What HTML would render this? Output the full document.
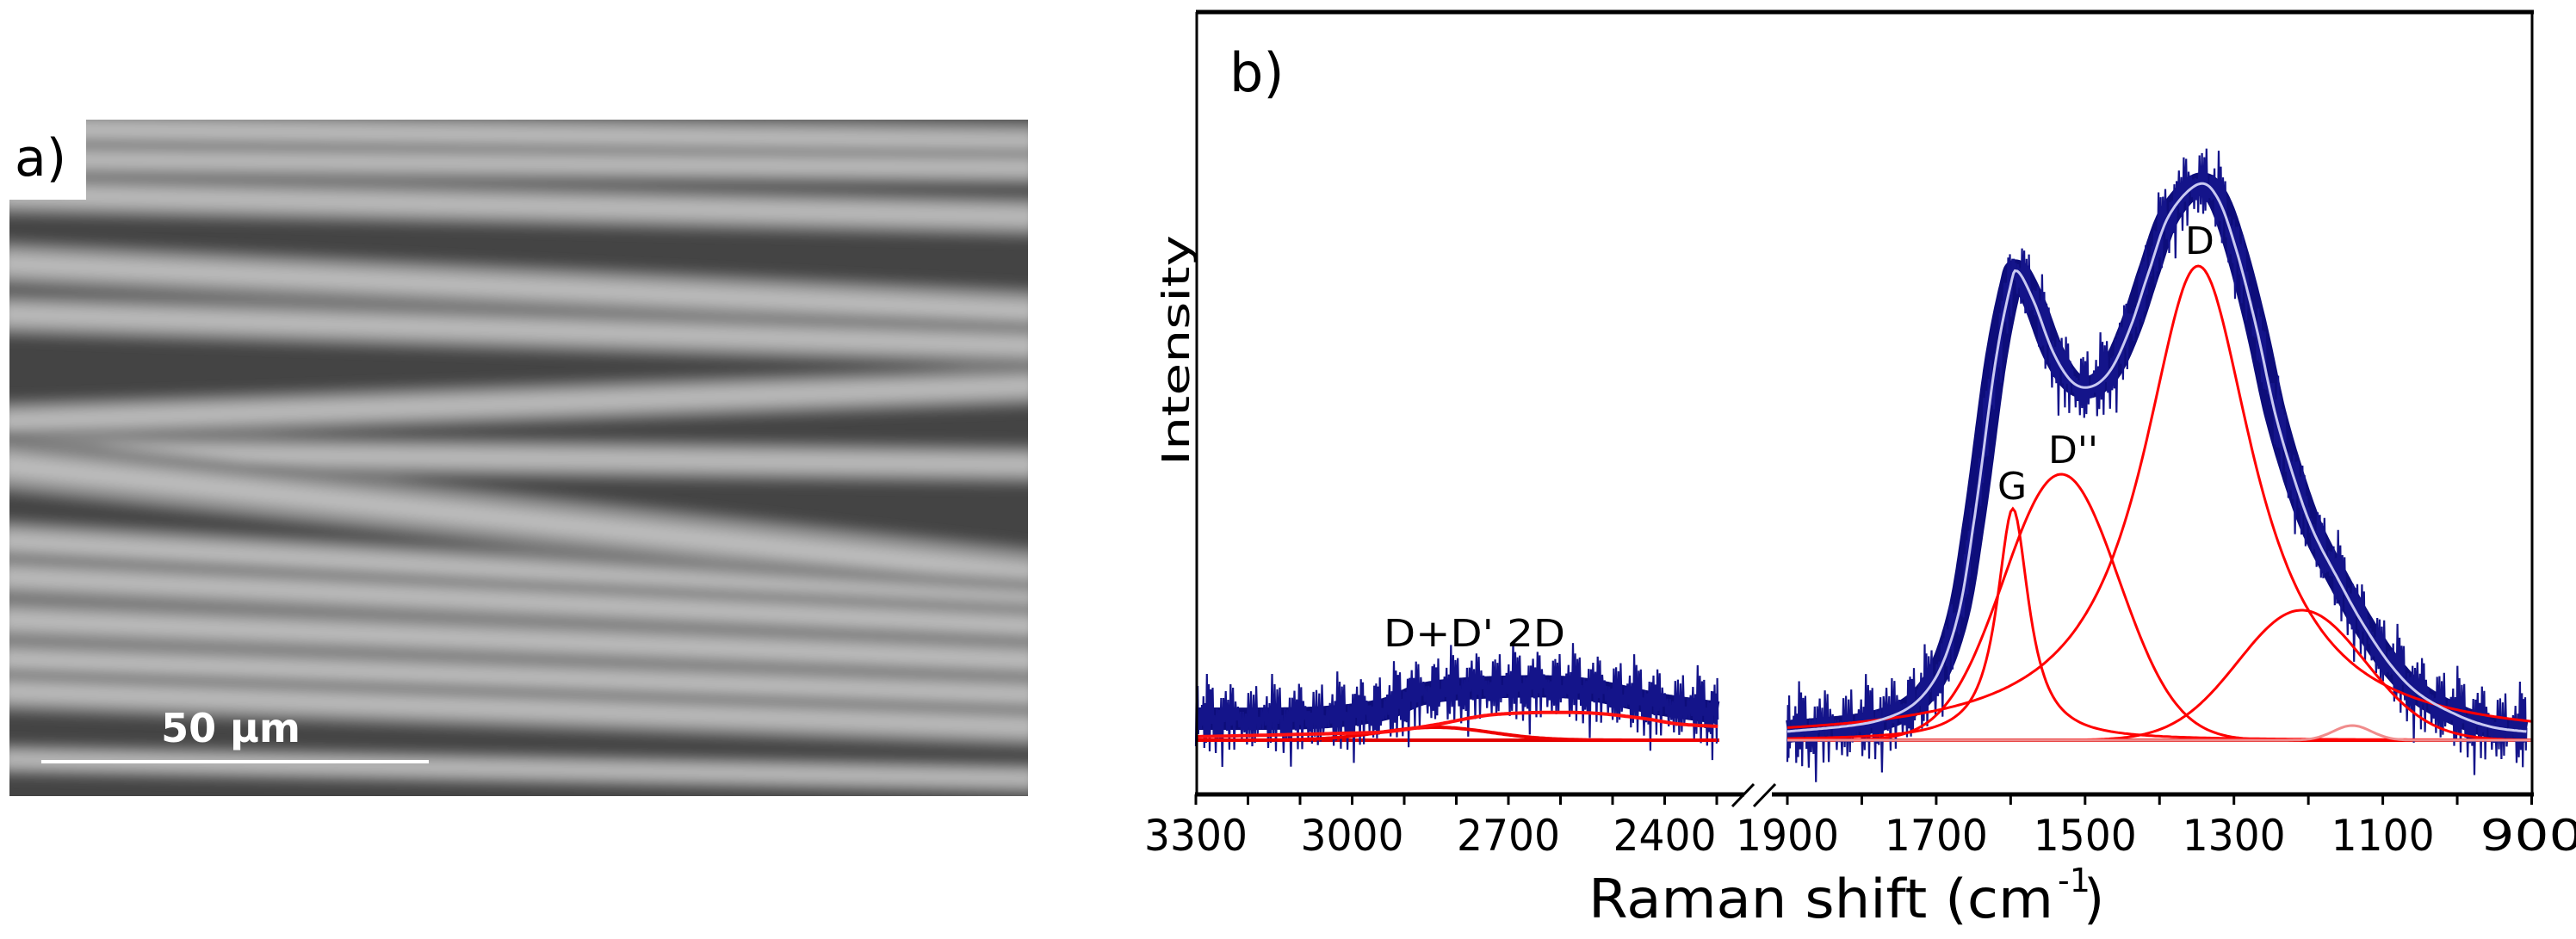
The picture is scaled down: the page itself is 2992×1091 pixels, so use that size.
<!DOCTYPE html>
<html><head><meta charset="utf-8"><style>
html,body{margin:0;padding:0;background:#fff;}
svg{display:block;font-family:"DejaVu Sans","Liberation Sans",sans-serif;}
</style></head><body>
<svg id="fig" width="2992" height="1091" viewBox="0 0 2992 1091" xmlns="http://www.w3.org/2000/svg">
<defs>
<clipPath id="semclip"><rect x="11" y="139" width="1183" height="786"/></clipPath>
<filter id="blur" x="-5%" y="-5%" width="110%" height="110%"><feGaussianBlur stdDeviation="7"/></filter>
</defs>
<g id="sem" clip-path="url(#semclip)">
<rect x="11" y="139" width="1183" height="786" fill="#444"/>
<g id="fibers" filter="url(#blur)"></g>
</g>
<rect x="11" y="139" width="89" height="93" fill="#fff"/>
<text x="17" y="204" font-size="60" fill="#000">a)</text>
<line x1="48" y1="885" x2="498" y2="885" stroke="#fff" stroke-width="4"/>
<text x="268" y="862" font-size="46" font-weight="bold" fill="#fff" text-anchor="middle">50 µm</text>

<g id="chart">
<g id="plot"></g>
<line x1="1389" y1="14" x2="2943" y2="14" stroke="#000" stroke-width="5"/>
<line x1="1390" y1="14" x2="1390" y2="923" stroke="#000" stroke-width="3"/>
<line x1="2941" y1="14" x2="2941" y2="923" stroke="#000" stroke-width="3"/>
<line x1="1388" y1="923" x2="2026" y2="923" stroke="#000" stroke-width="5"/>
<line x1="2058" y1="923" x2="2943" y2="923" stroke="#000" stroke-width="5"/>
<line x1="2012" y1="937" x2="2037" y2="911" stroke="#000" stroke-width="3"/>
<line x1="2037" y1="937" x2="2062" y2="911" stroke="#000" stroke-width="3"/>
<g id="ticks"></g>
<text x="1428" y="106" font-size="62">b)</text>
<text transform="translate(1381,407) rotate(-90)" font-size="44" text-anchor="middle" textLength="268" lengthAdjust="spacingAndGlyphs">Intensity</text>
<text x="1845" y="1066" font-size="62" textLength="540" lengthAdjust="spacingAndGlyphs">Raman shift (cm</text>
<text x="2390" y="1036" font-size="38">-1</text>
<text x="2420" y="1066" font-size="62">)</text>
<text x="2337" y="580" font-size="44" text-anchor="middle">G</text>
<text x="2408" y="538" font-size="44" text-anchor="middle">D''</text>
<text x="2555" y="295" font-size="44" text-anchor="middle">D</text>
<text x="1607" y="751" font-size="44" textLength="211" lengthAdjust="spacingAndGlyphs">D+D' 2D</text>
</g>
</svg>
<script>
// ---- chart data ----
const leftTicks = [3300,3200,3100,3000,2900,2800,2700,2600,2500,2400,2300];
const leftTickLabels = [3300,3000,2700,2400];
const rightTicks = [1900,1800,1700,1600,1500,1400,1300,1200,1100,1000,900];
const rightTickLabels = [1900,1700,1500,1300,1100,900];
// fitted envelope (wavenumber, intensity)
const fitRightWn  = [1900,1777,1712,1673,1648,1621,1601,1591,1569,1543,1517,1491,1465,1439,1414,1387,1348,1322,1297,1270,1245,1218,1193,1160,1128,1089,1050,997,952,907];
const fitRightVal = [10,23,58,137,262,436,525,545,510,451,416,411,431,480,545,610,646,630,570,480,381,301,242,187,137,87,53,28,15,10];
const fitLeftWn  = [3300,3017,2930,2840,2723,2561,2450,2376,2298];
const fitLeftVal = [4,8,10,18,30,32,26,19,16];
const dataLeftWn  = [3300,3077,2945,2855,2708,2561,2412,2298];
const dataLeftVal = [25,26,35,55,62,60,42,32];
// fitted components: centre, height, fwhm
const compNames   = ['G','D2','D','band1200','band1140'];
const compCenter  = [1597,1532,1348,1209,1141];
const compHeight  = [269,309,551,151,17];
const compFwhm    = [52,182,182,201,60];
const compShape   = ['L','G','L','G','G'];
const leftCompCenter = [2840];
const leftCompHeight = [15];
const leftCompFwhm   = [250];
const noise = [0.8,-0.6,0.3,-0.9,0.5,-0.2,1.0,-0.7,0.1,-0.4,0.9,-1.0,0.4,-0.3,0.7,-0.8,0.2,-0.5,0.95,-0.15,0.6,-0.95,0.35,-0.65,0.05,-0.85,0.75,-0.25,0.45,-0.55,0.85,-0.35,0.15,-0.75,0.65,-0.05,0.9,-0.45,0.25,-0.9,0.55,-0.6,0.3,-1.0,0.7,-0.2,0.5,-0.8,1.4,-0.3,0.2,-1.3,0.6,-0.1];

const NS='http://www.w3.org/2000/svg';
const xL = wn => 1389 + (3300 - wn) * 0.605;
const xR = wn => 2076 + (1900 - wn) * 0.8645;
const yV = v => 860 - v;
const plot = document.getElementById('plot');
function mk(tag, attrs, parent){const e=document.createElementNS(NS,tag);for(const k in attrs)e.setAttribute(k,attrs[k]);(parent||plot).appendChild(e);return e;}

function sampleCR(wns, vals, xf, step){
  const pts=[];const n=wns.length;
  for(let i=0;i<n-1;i++){
    const p0=[xf(wns[Math.max(0,i-1)]),vals[Math.max(0,i-1)]],p1=[xf(wns[i]),vals[i]],p2=[xf(wns[i+1]),vals[i+1]],p3=[xf(wns[Math.min(n-1,i+2)]),vals[Math.min(n-1,i+2)]];
    const steps=Math.max(2,Math.ceil(Math.abs(p2[0]-p1[0])/step));
    for(let s=0;s<steps;s++){const t=s/steps,t2=t*t,t3=t2*t;
      const f=(a,b,c,d)=>0.5*((2*b)+(-a+c)*t+(2*a-5*b+4*c-d)*t2+(-a+3*b-3*c+d)*t3);
      pts.push([f(p0[0],p1[0],p2[0],p3[0]),f(p0[1],p1[1],p2[1],p3[1])]);}
  }
  pts.push([xf(wns[n-1]),vals[n-1]]);return pts;
}
const pathOf = pts => 'M'+pts.map(p=>p[0].toFixed(1)+','+yV(p[1]).toFixed(1)).join('L');
function noisyPath(pts, amp){return 'M'+pts.map((p,i)=>p[0].toFixed(1)+','+(yV(p[1])+noise[(i*7)%noise.length]*amp).toFixed(1)).join('L');}
function peak(shape,c,h,w,x){if(shape==='L'){const g=w/2;return h/(1+((x-c)/g)**2);}const s=w/2.3548;return h*Math.exp(-((x-c)**2)/(2*s*s));}

let e;
e=mk('line',{x1:1390,y1:860,x2:1997,y2:860,stroke:'#e00000','stroke-width':4});


e=mk('line',{x1:2076,y1:860,x2:2940,y2:860,stroke:'#e00000','stroke-width':4});



// data (blue)
const leftData = sampleCR(dataLeftWn,dataLeftVal,xL,1.3);
const rightData = sampleCR(fitRightWn,fitRightVal,xR,1.3);
[[leftData,'data-left',40],[rightData,'data-right',44]].forEach(([pts,name,amp])=>{
  e=mk('path',{d:pathOf(pts),fill:'none',stroke:'#0d0d7a','stroke-width':26,'stroke-linejoin':'round'});
  
  
  e=mk('path',{d:noisyPath(pts,amp),fill:'none',stroke:'#14148a','stroke-width':2.2});
  
  
});

const rx=[];for(let wn=1900;wn>=900;wn-=3)rx.push(wn);
compNames.forEach((nm,k)=>{
  const d='M'+rx.map(wn=>xR(wn).toFixed(1)+','+yV(peak(compShape[k],compCenter[k],compHeight[k],compFwhm[k],wn)).toFixed(1)).join('L');
  e=mk('path',{d:d,fill:'none',stroke:k===4?'#f08c8c':'#ff0000','stroke-width':3});
  
  
});
const lx=[];for(let wn=3300;wn>=2298;wn-=4)lx.push(wn);
leftCompCenter.forEach((c,k)=>{
  const d='M'+lx.map(wn=>xL(wn).toFixed(1)+','+yV(peak('G',c,leftCompHeight[k],leftCompFwhm[k],wn)).toFixed(1)).join('L');
  e=mk('path',{d:d,fill:'none',stroke:'#ee0000','stroke-width':4});
  
  
});
e=mk('path',{d:pathOf(sampleCR(fitLeftWn,fitLeftVal,xL,2.5)),fill:'none',stroke:'#ff1010','stroke-width':4});


e=mk('path',{d:pathOf(sampleCR(fitRightWn,fitRightVal,xR,2.5)),fill:'none',stroke:'#c9c9f2','stroke-width':3});



const tg=document.getElementById('ticks');
[[leftTicks,xL],[rightTicks,xR]].forEach(([arr,xf])=>arr.forEach(t=>{
  e=mk('line',{x1:xf(t),y1:923,x2:xf(t),y2:935,stroke:'#000','stroke-width':3},tg);
  
  
}));
[[leftTickLabels,xL],[rightTickLabels,xR]].forEach(([arr,xf])=>arr.forEach(t=>{
  e=mk('text',{x:xf(t),y:988,'font-size':50,'text-anchor':'middle',textLength:120,lengthAdjust:'spacingAndGlyphs'},tg);
  e.textContent=t;
  
  
}));

// SEM fibers: [yLeft, yRight, width]
const fibers=[[150,165,50],[185,195,44],[226,252,50],[306,362,56],[365,402,52],[490,448,50],[525,540,48],[540,668,66],[628,700,52],[670,728,52],[720,768,54],[766,808,52],[803,845,50],[882,905,38]];
const fg=document.getElementById('fibers');
fibers.forEach(f=>{
  [[1,'#727272'],[0.7,'#979797'],[0.35,'#bcbcbc']].forEach(([s,c])=>{
    e=mk('line',{x1:0,y1:f[0],x2:1205,y2:f[1],stroke:c,'stroke-width':f[2]*s},fg);
    
    
  });
});
</script>
</body></html>
